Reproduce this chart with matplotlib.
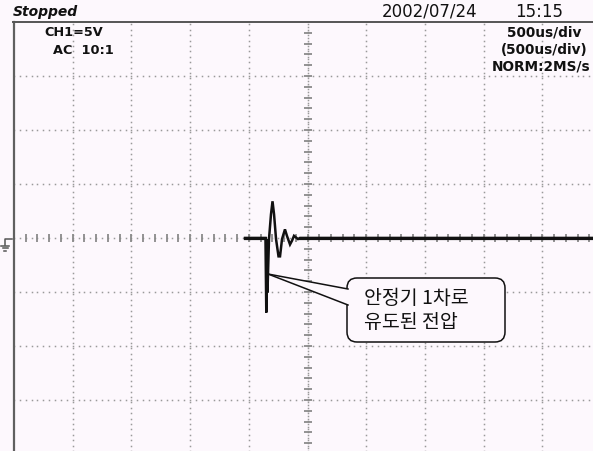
import numpy as np
import matplotlib
matplotlib.use("Agg")
import matplotlib.pyplot as plt
from matplotlib.patches import FancyBboxPatch, Polygon

# ---------------- data ----------------
time_us = [-532, -358, -351, -345, -341, -328, -311, -298, -285, -268, -247, -234,
           -217, -192, -175, -149, -132, -115, -98, -81, -64, 2432]
volts = [0, 0, -6.9, -0.14, -5.05, -0.1, 2.2, 3.4, 2.2, -0.1, -1.7, -1.7,
         -0.1, 0.8, 0.2, -0.6, -0.25, 0.2, 0.05, -0.1, 0, 0]

status_text = "Stopped"
date_text = "2002/07/24"
clock_text = "15:15"
ch_lines = ["CH1=5V", "AC  10:1"]
rate_lines = ["500us/div", "(500us/div)", "NORM:2MS/s"]
note_lines = ["안정기 1차로", "유도된 전압"]

# scope settings
us_per_div = 500
v_per_div = 5

# ---------------- layout ----------------
W, H = 593, 451
px_div_x, px_div_y = 58.7, 54.0
left_px, top_px = 14, 22
bg = "#fdf8fd"

fig = plt.figure(figsize=(W / 100, H / 100), dpi=100)
fig.patch.set_facecolor(bg)

ax = fig.add_axes([left_px / W, 0, (W - left_px) / W, (H - top_px) / H])
ax.set_facecolor(bg)
x0 = -5 * us_per_div
x1 = x0 + (W - left_px) / px_div_x * us_per_div
y1 = 4 * v_per_div
y0 = y1 - (H - top_px) / px_div_y * v_per_div
ax.set_xlim(x0, x1)
ax.set_ylim(y0, y1)
ax.set_xticks([])
ax.set_yticks([])
for s in ["right", "bottom", "top"]:
    ax.spines[s].set_visible(False)
ax.spines["left"].set_color("#606060")
ax.spines["left"].set_linewidth(1.6)

dot_c = "#9a9a9a"
# vertical dotted grid lines
ydots = np.arange(y0, y1, v_per_div / 10)
for k in range(1, 10):
    xv = x0 + k * us_per_div
    if k == 5:
        continue
    ax.plot(np.full_like(ydots, xv), ydots, ls="none", marker="s", ms=1.1,
            mew=0, color=dot_c, zorder=1)
# horizontal dotted grid lines
xdots = np.arange(x0, x1, us_per_div / 10)
for k in range(-3, 4):
    yv = k * v_per_div
    if k == 0:
        continue
    ax.plot(xdots, np.full_like(xdots, yv), ls="none", marker="s", ms=1.1,
            mew=0, color=dot_c, zorder=1)

# centre axes with dots and ticks
ax.plot(xdots, np.zeros_like(xdots), ls="none", marker="s", ms=1.1, mew=0,
        color=dot_c, zorder=1)
ydots2 = np.arange(y0, y1, v_per_div / 20)
ax.plot(np.zeros_like(ydots2), ydots2, ls="none", marker="s", ms=1.1, mew=0,
        color=dot_c, zorder=1)
xt = np.arange(x0, x1, us_per_div / 5)
ax.plot(xt, np.zeros_like(xt), ls="none", marker="|", ms=5.5, mew=1.3,
        color="#8a8a8a", zorder=1)
yt = np.arange(np.ceil(y0), y1, v_per_div / 5)
ax.plot(np.zeros_like(yt), yt, ls="none", marker="_", ms=6, mew=1.3,
        color="#8a8a8a", zorder=1)

# trace
ax.plot(time_us, volts, color="#111111", lw=1.8, zorder=3,
        solid_joinstyle="miter")
ax.plot([time_us[0], time_us[1]], [volts[0], volts[1]], color="#111111", lw=2.3, zorder=3)
ax.plot([time_us[-2], time_us[-1]], [volts[-2], volts[-1]], color="#111111", lw=2.3, zorder=3)

# ---------------- overlay (pixel coordinates) ----------------
ov = fig.add_axes([0, 0, 1, 1])
ov.set_xlim(0, W)
ov.set_ylim(H, 0)
ov.axis("off")
ov.patch.set_alpha(0)

# top border
ov.plot([left_px - 1, W], [top_px, top_px], color="#555555", lw=1.4)

# header texts
ov.text(13, 12, status_text, fontsize=10, fontweight="bold", fontstyle="italic",
        ha="left", va="center", color="#111111")
ov.text(382, 12, date_text, fontsize=12, ha="left", va="center", color="#111111")
ov.text(515, 12, clock_text, fontsize=12, ha="left", va="center", color="#111111")

ov.text(44, 32, ch_lines[0], fontsize=9.3, fontweight="bold", ha="left", va="center", color="#111111")
ov.text(53, 50, ch_lines[1], fontsize=9.3, fontweight="bold", ha="left", va="center", color="#111111")
rate_right = [581, 588, 590]
for i, t in enumerate(rate_lines):
    ov.text(rate_right[i], 32 + i * 17.5, t, fontsize=9.8, fontweight="bold", ha="right",
            va="center", color="#111111")

# ground marker
gc = "#555555"
ov.plot([12, 5, 5], [238.5, 238.5, 245], color=gc, lw=1.1)
ov.plot([1, 9], [245.5, 245.5], color=gc, lw=1.1)
ov.plot([2.5, 7.5], [248, 248], color=gc, lw=1.1)
ov.plot([4, 6], [250.5, 250.5], color=gc, lw=1.1)

# callout
box = FancyBboxPatch((347, 278), 158, 64, boxstyle="round,pad=0,rounding_size=10",
                     fc=bg, ec="#111111", lw=1.1, zorder=5)
ov.add_patch(box)
tip = (268, 274)
up = (348, 289)
lo = (348, 305)
ov.add_patch(Polygon([tip, (up[0] + 1, up[1]), (lo[0] + 1, lo[1])], closed=True,
                     fc=bg, ec="none", zorder=6))
ov.plot([tip[0], up[0]], [tip[1], up[1]], color="#111111", lw=1.1, zorder=7)
ov.plot([tip[0], lo[0]], [tip[1], lo[1]], color="#111111", lw=1.1, zorder=7)

for i, t in enumerate(note_lines):
    ov.text(364, 299 + i * 24, t, fontsize=14, ha="left", va="center",
            family=["Noto Sans CJK KR", "DejaVu Sans"], color="#111111", zorder=8)

fig.savefig("out.png", dpi=100, facecolor=bg)
